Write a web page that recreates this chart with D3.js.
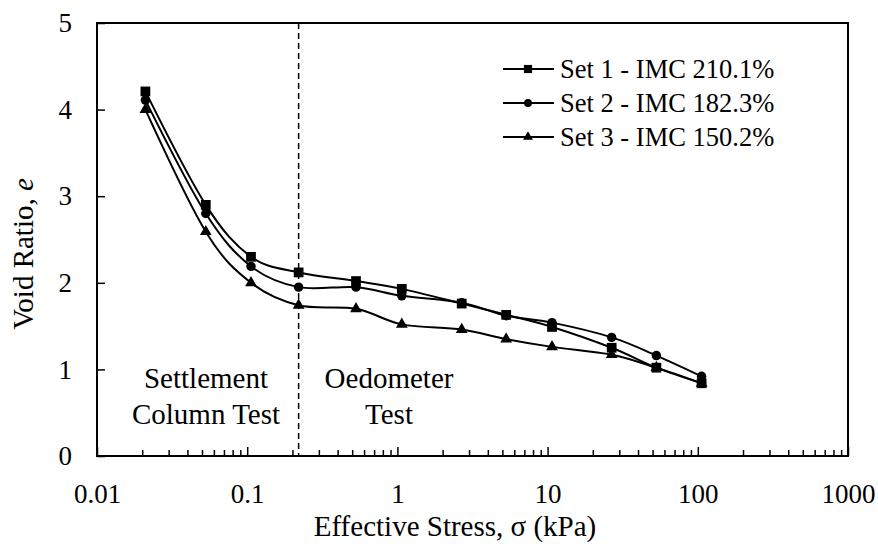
<!DOCTYPE html>
<html><head><meta charset="utf-8">
<script src="https://cdn.jsdelivr.net/npm/d3@7"></script>
</head><body style="margin:0;background:#fff"><svg id="c" width="878" height="544" style="display:block"></svg>
<script>
const stress = [0.021, 0.053, 0.106, 0.22, 0.53, 1.07, 2.68, 5.3, 10.7, 26.7, 53, 106];
const set1 = [4.21, 2.90, 2.30, 2.12, 2.02, 1.93, 1.76, 1.63, 1.49, 1.25, 1.02, 0.84];
const set2 = [4.11, 2.80, 2.19, 1.95, 1.95, 1.85, 1.77, 1.62, 1.54, 1.37, 1.16, 0.92];
const set3 = [4.00, 2.59, 2.00, 1.74, 1.70, 1.52, 1.46, 1.35, 1.26, 1.17, 1.02, 0.84];
const seriesNames = ["Set 1 - IMC 210.1%", "Set 2 - IMC 182.3%", "Set 3 - IMC 150.2%"];
const seriesSymbols = ["square", "circle", "triangle"];
const xTicks = [0.01, 0.1, 1, 10, 100, 1000];
const xTickLabels = ["0.01", "0.1", "1", "10", "100", "1000"];
const yTicks = [0, 1, 2, 3, 4, 5];
const boundaryStress = 0.22;

const FONT = "'Liberation Serif'";
const svg = d3.select("#c");
const L = 97, R = 848, T = 23, B = 456;
const x = d3.scaleLog().domain([0.01, 1000]).range([L, R]);
const y = d3.scaleLinear().domain([0, 5]).range([B, T]);
const txt = (sel, fs) => sel.style("font-family", FONT).attr("font-size", fs).attr("fill", "#000");

// frame
svg.append("rect").attr("x", L).attr("y", T).attr("width", R - L).attr("height", B - T)
  .attr("fill", "none").attr("stroke", "#000").attr("stroke-width", 2);

// y ticks (inward)
const yAxis = d3.axisLeft(y).tickValues(yTicks).tickSize(-8).tickPadding(25).tickFormat(d3.format("d"));
const gy = svg.append("g").attr("transform", `translate(${L},0)`).call(yAxis);
gy.select(".domain").remove();
gy.selectAll("line").attr("stroke", "#000").attr("stroke-width", 1.5);
gy.selectAll("text").call(txt, 27);

// x ticks: major + minor (inward)
const minor = [];
for (let d = 0.01; d < 1000; d *= 10) for (let k = 2; k <= 9; k++) minor.push(+(d * k).toPrecision(3));
const gxm = svg.append("g").attr("transform", `translate(0,${B})`)
  .call(d3.axisBottom(x).tickValues(minor).tickSize(-6).tickFormat(""));
gxm.select(".domain").remove();
gxm.selectAll("line").attr("stroke", "#000").attr("stroke-width", 1.5);
const gx = svg.append("g").attr("transform", `translate(0,${B})`)
  .call(d3.axisBottom(x).tickValues(xTicks).tickSize(-9).tickPadding(28).tickFormat((d, i) => xTickLabels[i]));
gx.select(".domain").remove();
gx.selectAll("line").attr("stroke", "#000").attr("stroke-width", 1.5);
gx.selectAll("text").call(txt, 27);

// boundary dashed line
svg.append("line").attr("x1", x(boundaryStress)).attr("x2", x(boundaryStress))
  .attr("y1", T).attr("y2", B).attr("stroke", "#000").attr("stroke-width", 1.5)
  .attr("stroke-dasharray", "6,4");

// annotations
const ann = svg.append("g").attr("text-anchor", "middle");
ann.append("text").attr("x", 206).attr("y", 388).text("Settlement").call(txt, 29);
ann.append("text").attr("x", 206).attr("y", 424).text("Column Test").call(txt, 29);
ann.append("text").attr("x", 389).attr("y", 388).text("Oedometer").call(txt, 29);
ann.append("text").attr("x", 389).attr("y", 424).text("Test").call(txt, 29);

// series
const allSets = [set1, set2, set3];
const symType = {square: d3.symbolSquare, circle: d3.symbolCircle, triangle: d3.symbolTriangle};
const symSize = {square: 95, circle: 70, triangle: 60};
const line = d3.line().x(d => x(d[0])).y(d => y(d[1])).curve(d3.curveCardinal.tension(0));
allSets.forEach((vals, i) => {
  const pts = stress.map((s, j) => [s, vals[j]]);
  svg.append("path").datum(pts).attr("d", line).attr("fill", "none")
    .attr("stroke", "#000").attr("stroke-width", 2);
  const sym = d3.symbol().type(symType[seriesSymbols[i]]).size(symSize[seriesSymbols[i]]);
  svg.append("g").selectAll("path").data(pts).join("path")
    .attr("d", sym).attr("transform", d => `translate(${x(d[0])},${y(d[1])})`).attr("fill", "#000");
});

// legend
const lg = svg.append("g");
seriesNames.forEach((name, i) => {
  const cy = 69 + i * 34;
  lg.append("line").attr("x1", 503).attr("x2", 554).attr("y1", cy).attr("y2", cy)
    .attr("stroke", "#000").attr("stroke-width", 2);
  const sym = d3.symbol().type(symType[seriesSymbols[i]]).size(symSize[seriesSymbols[i]] * 0.7);
  lg.append("path").attr("d", sym).attr("transform", `translate(528,${cy})`).attr("fill", "#000");
  lg.append("text").attr("x", 560).attr("y", cy + 9).text(name).call(txt, 26.5);
});

// axis titles
svg.append("text").attr("x", 455).attr("y", 536).attr("text-anchor", "middle")
  .text("Effective Stress, σ (kPa)").call(txt, 29);
const yt = svg.append("text").attr("transform", `translate(33,254) rotate(-90)`)
  .attr("text-anchor", "middle").call(txt, 29);
yt.append("tspan").text("Void Ratio, ");
yt.append("tspan").style("font-style", "italic").text("e");
</script></body></html>
